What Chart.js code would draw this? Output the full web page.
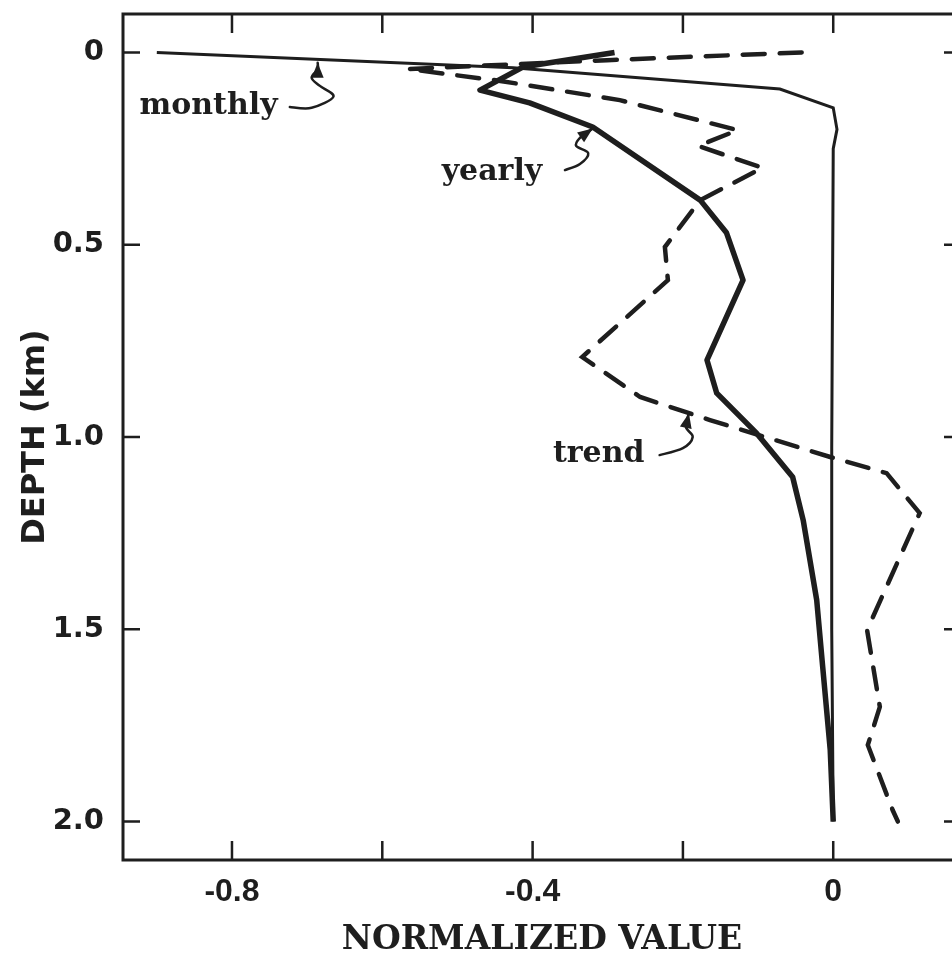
<!DOCTYPE html>
<html>
<head>
<meta charset="utf-8">
<title>Depth profiles</title>
<script src="https://cdn.jsdelivr.net/npm/chart.js@4.4.1/dist/chart.umd.min.js"></script>
<style>
    html, body { margin: 0; padding: 0; background: #fff; overflow: hidden; }
    canvas { display: block; }
</style>
</head>
<body>
<canvas id="chart" width="971" height="962"></canvas>
<script>
// Donnees (valeur normalisee, profondeur en km)
const monthlyValue = [-0.900, -0.426, -0.071, 0.000, 0.005, 0.000, -0.002, -0.002, 0.000];
const monthlyDepth = [0.000, 0.040, 0.095, 0.144, 0.200, 0.250, 1.030, 1.500, 2.000];

const yearlyValue = [-0.291, -0.413, -0.470, -0.404, -0.320, -0.177, -0.142, -0.120, -0.168, -0.155, -0.102, -0.054, -0.040, -0.022, -0.014, -0.004, 0.000];
const yearlyDepth = [0.000, 0.038, 0.098, 0.131, 0.194, 0.384, 0.469, 0.592, 0.800, 0.886, 0.990, 1.104, 1.216, 1.424, 1.598, 1.814, 2.000];

const trendValue = [-0.042, -0.301, -0.566, -0.443, -0.284, -0.127, -0.180, -0.094, -0.177, -0.224, -0.220, -0.334, -0.257, -0.164, -0.004, 0.071, 0.115, 0.045, 0.062, 0.046, 0.079, 0.086];
const trendDepth = [0.000, 0.020, 0.043, 0.074, 0.124, 0.202, 0.243, 0.300, 0.384, 0.506, 0.592, 0.792, 0.896, 0.956, 1.052, 1.094, 1.198, 1.502, 1.702, 1.801, 1.970, 2.000];

const xTickValues = [-0.8, -0.6, -0.4, -0.2, 0];
const xTickLabels = ['-0.8', '', '-0.4', '', '0'];
const yTickValues = [0, 0.5, 1.0, 1.5, 2.0];
const yTickLabels = ['0', '0.5', '1.0', '1.5', '2.0'];

// Etiquettes des courbes et fleches (coordonnees en unites des axes)
const curveLabels = [
    { text: 'monthly', x: -0.923, y: 0.160 },
    { text: 'yearly', x: -0.521, y: 0.332 },
    { text: 'trend', x: -0.373, y: 1.065 }
];
const curveArrows = [
    [[-0.723, 0.142], [-0.694, 0.144], [-0.665, 0.115], [-0.683, 0.087], [-0.694, 0.066], [-0.686, 0.044], [-0.686, 0.027]],
    [[-0.357, 0.306], [-0.337, 0.290], [-0.326, 0.262], [-0.342, 0.243], [-0.337, 0.222], [-0.320, 0.198]],
    [[-0.231, 1.047], [-0.200, 1.029], [-0.187, 1.000], [-0.196, 0.974], [-0.192, 0.938]]
];

const ink = '#1e1e1e';

function toPoints(xs, ys) {
    return xs.map((v, i) => ({ x: v, y: ys[i] }));
}

// Cadre, graduations vers l'interieur, etiquettes et fleches
const decorPlugin = {
    id: 'decor',
    afterDraw(chart) {
        const ctx = chart.ctx;
        const a = chart.chartArea;
        const xs = chart.scales.x;
        const ys = chart.scales.y;
        ctx.save();
        ctx.strokeStyle = ink;
        ctx.fillStyle = ink;
        ctx.lineWidth = 3;
        ctx.strokeRect(a.left, a.top, a.right - a.left, a.bottom - a.top);

        ctx.lineWidth = 2.5;
        ctx.beginPath();
        xTickValues.forEach(v => {
            const px = xs.getPixelForValue(v);
            ctx.moveTo(px, a.bottom); ctx.lineTo(px, a.bottom - 19);
            ctx.moveTo(px, a.top); ctx.lineTo(px, a.top + 19);
        });
        yTickValues.forEach(v => {
            const py = ys.getPixelForValue(v);
            ctx.moveTo(a.left, py); ctx.lineTo(a.left + 17, py);
            ctx.moveTo(a.right, py); ctx.lineTo(a.right - 17, py);
        });
        ctx.stroke();

        ctx.font = 'bold 30px "DejaVu Serif"';
        ctx.textAlign = 'left';
        ctx.textBaseline = 'alphabetic';
        curveLabels.forEach(l => {
            ctx.fillText(l.text, xs.getPixelForValue(l.x), ys.getPixelForValue(l.y));
        });

        ctx.lineWidth = 2.5;
        ctx.lineCap = 'round';
        curveArrows.forEach(path => {
            const pts = path.map(p => [xs.getPixelForValue(p[0]), ys.getPixelForValue(p[1])]);
            ctx.beginPath();
            ctx.moveTo(pts[0][0], pts[0][1]);
            for (let i = 0; i < pts.length - 1; i++) {
                const p0 = pts[i - 1] || pts[i];
                const p1 = pts[i];
                const p2 = pts[i + 1];
                const p3 = pts[i + 2] || p2;
                ctx.bezierCurveTo(
                    p1[0] + (p2[0] - p0[0]) / 6, p1[1] + (p2[1] - p0[1]) / 6,
                    p2[0] - (p3[0] - p1[0]) / 6, p2[1] - (p3[1] - p1[1]) / 6,
                    p2[0], p2[1]);
            }
            ctx.stroke();
            // pointe de fleche
            const tip = pts[pts.length - 1];
            const prev = pts[pts.length - 2];
            const ang = Math.atan2(tip[1] - prev[1], tip[0] - prev[0]);
            ctx.beginPath();
            ctx.moveTo(tip[0], tip[1]);
            ctx.lineTo(tip[0] - 15 * Math.cos(ang) + 6 * Math.sin(ang), tip[1] - 15 * Math.sin(ang) - 6 * Math.cos(ang));
            ctx.lineTo(tip[0] - 15 * Math.cos(ang) - 6 * Math.sin(ang), tip[1] - 15 * Math.sin(ang) + 6 * Math.cos(ang));
            ctx.closePath();
            ctx.fill();
        });
        ctx.restore();
    }
};

const ctx = document.getElementById('chart').getContext('2d');
new Chart(ctx, {
    type: 'scatter',
    data: {
        datasets: [
            {
                label: 'monthly',
                data: toPoints(monthlyValue, monthlyDepth),
                showLine: true,
                borderColor: ink,
                borderWidth: 3,
                pointRadius: 0,
                tension: 0
            },
            {
                label: 'yearly',
                data: toPoints(yearlyValue, yearlyDepth),
                showLine: true,
                borderColor: ink,
                borderWidth: 5.5,
                borderJoinStyle: 'round',
                pointRadius: 0,
                tension: 0
            },
            {
                label: 'trend',
                data: toPoints(trendValue, trendDepth),
                showLine: true,
                borderColor: ink,
                borderWidth: 4.5,
                borderDash: [22, 15],
                borderCapStyle: 'round',
                pointRadius: 0,
                tension: 0
            }
        ]
    },
    options: {
        responsive: false,
        animation: false,
        layout: { padding: { top: 14, right: 10, left: 0, bottom: 0 } },
        plugins: {
            legend: { display: false },
            tooltip: { enabled: false }
        },
        scales: {
            x: {
                type: 'linear',
                position: 'bottom',
                min: -0.945,
                max: 0.17,
                grid: { display: false },
                border: { display: false },
                afterBuildTicks: scale => { scale.ticks = xTickValues.map(v => ({ value: v })); },
                afterFit: scale => {
                    scale.height = 102;
                    scale.paddingLeft = 0;
                    scale.paddingRight = 0;
                },
                ticks: {
                    autoSkip: false,
                    maxRotation: 0,
                    padding: 5,
                    color: ink,
                    font: { family: '"Liberation Sans", Arial, sans-serif', size: 32, weight: 'bold' },
                    callback: (value, index) => xTickLabels[index]
                },
                title: {
                    display: true,
                    text: 'NORMALIZED VALUE',
                    color: ink,
                    padding: { top: 0, bottom: 2 },
                    font: { family: '"DejaVu Serif", serif', size: 33, weight: 'bold' }
                }
            },
            y: {
                type: 'linear',
                position: 'left',
                reverse: true,
                min: -0.1,
                max: 2.1,
                grid: { display: false },
                border: { display: false },
                afterBuildTicks: scale => { scale.ticks = yTickValues.map(v => ({ value: v })); },
                afterFit: scale => {
                    scale.width = 123;
                    scale.paddingTop = 0;
                    scale.paddingBottom = 0;
                },
                ticks: {
                    autoSkip: false,
                    padding: 11,
                    color: ink,
                    font: { family: '"DejaVu Sans", sans-serif', size: 29, weight: 'bold' },
                    callback: (value, index) => yTickLabels[index]
                },
                title: {
                    display: true,
                    text: 'DEPTH (km)',
                    color: ink,
                    padding: { top: 16, bottom: 0 },
                    font: { family: '"DejaVu Sans", sans-serif', size: 32, weight: 'bold' }
                }
            }
        }
    },
    plugins: [decorPlugin]
});
</script>
</body>
</html>
